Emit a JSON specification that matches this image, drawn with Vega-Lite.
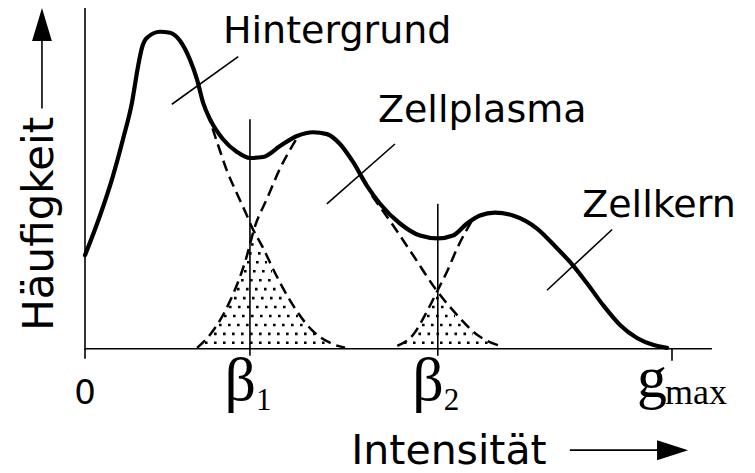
{
  "$schema": "https://vega.github.io/schema/vega-lite/v6.json",
  "width": 755,
  "height": 473,
  "autosize": {"type": "fit", "contains": "padding"},
  "padding": 0,
  "background": "white",
  "config": {
    "view": {"stroke": null},
    "text": {"font": "DejaVu Sans", "color": "black"}
  },
  "datasets": {
    "histogram": [
      {"intensity": 0, "frequency": 29.4},
      {"intensity": 2.56, "frequency": 41.9},
      {"intensity": 4.77, "frequency": 54.4},
      {"intensity": 6.47, "frequency": 65.9},
      {"intensity": 8.01, "frequency": 77.5},
      {"intensity": 9.03, "frequency": 88.75},
      {"intensity": 9.71, "frequency": 94.7},
      {"intensity": 10.56, "frequency": 97.8},
      {"intensity": 12.78, "frequency": 99.7},
      {"intensity": 14.48, "frequency": 99.4},
      {"intensity": 16.18, "frequency": 96.9},
      {"intensity": 17.89, "frequency": 90.9},
      {"intensity": 19.08, "frequency": 84.7},
      {"intensity": 20.1, "frequency": 77.5},
      {"intensity": 21.29, "frequency": 72.2},
      {"intensity": 23.51, "frequency": 65.9},
      {"intensity": 25.89, "frequency": 61.9},
      {"intensity": 28.11, "frequency": 60.0},
      {"intensity": 30.32, "frequency": 60.3},
      {"intensity": 33.22, "frequency": 63.75},
      {"intensity": 36.12, "frequency": 66.9},
      {"intensity": 38.84, "frequency": 68.1},
      {"intensity": 41.23, "frequency": 67.5},
      {"intensity": 43.44, "frequency": 64.4},
      {"intensity": 45.66, "frequency": 58.75},
      {"intensity": 48.04, "frequency": 51.25},
      {"intensity": 50.26, "frequency": 45.6},
      {"intensity": 53.66, "frequency": 39.4},
      {"intensity": 57.07, "frequency": 35.6},
      {"intensity": 60.14, "frequency": 34.7},
      {"intensity": 62.69, "frequency": 35.6},
      {"intensity": 65.08, "frequency": 39.4},
      {"intensity": 67.29, "frequency": 41.9},
      {"intensity": 69.85, "frequency": 42.8},
      {"intensity": 72.91, "frequency": 41.9},
      {"intensity": 77.0, "frequency": 37.8},
      {"intensity": 80.41, "frequency": 31.6},
      {"intensity": 83.13, "frequency": 26.25},
      {"intensity": 85.52, "frequency": 20.6},
      {"intensity": 88.25, "frequency": 13.75},
      {"intensity": 91.14, "frequency": 7.5},
      {"intensity": 94.04, "frequency": 3.4},
      {"intensity": 96.76, "frequency": 1.25},
      {"intensity": 99.15, "frequency": 0.3}
    ],
    "components": [
      {"tail": "Hintergrund rechts", "intensity": 20.8, "frequency": 74.4},
      {"tail": "Hintergrund rechts", "intensity": 22.5, "frequency": 65.0},
      {"tail": "Hintergrund rechts", "intensity": 24.2, "frequency": 55.9},
      {"tail": "Hintergrund rechts", "intensity": 25.9, "frequency": 48.75},
      {"tail": "Hintergrund rechts", "intensity": 27.3, "frequency": 43.1},
      {"tail": "Hintergrund rechts", "intensity": 28.4, "frequency": 38.4},
      {"tail": "Hintergrund rechts", "intensity": 30.2, "frequency": 32.2},
      {"tail": "Hintergrund rechts", "intensity": 32.4, "frequency": 23.75},
      {"tail": "Hintergrund rechts", "intensity": 35.0, "frequency": 15.0},
      {"tail": "Hintergrund rechts", "intensity": 38.8, "frequency": 5.6},
      {"tail": "Hintergrund rechts", "intensity": 41.7, "frequency": 1.9},
      {"tail": "Hintergrund rechts", "intensity": 44.3, "frequency": 0.3},
      {"tail": "Zellplasma links", "intensity": 19.1, "frequency": 0.3},
      {"tail": "Zellplasma links", "intensity": 21.3, "frequency": 4.4},
      {"tail": "Zellplasma links", "intensity": 24.7, "frequency": 15.0},
      {"tail": "Zellplasma links", "intensity": 27.3, "frequency": 27.5},
      {"tail": "Zellplasma links", "intensity": 29.0, "frequency": 38.75},
      {"tail": "Zellplasma links", "intensity": 31.0, "frequency": 47.2},
      {"tail": "Zellplasma links", "intensity": 33.2, "frequency": 56.6},
      {"tail": "Zellplasma links", "intensity": 35.9, "frequency": 65.6},
      {"tail": "Zellplasma rechts", "intensity": 48.9, "frequency": 48.1},
      {"tail": "Zellplasma rechts", "intensity": 52.5, "frequency": 38.75},
      {"tail": "Zellplasma rechts", "intensity": 55.9, "frequency": 29.4},
      {"tail": "Zellplasma rechts", "intensity": 60.0, "frequency": 18.1},
      {"tail": "Zellplasma rechts", "intensity": 63.4, "frequency": 10.6},
      {"tail": "Zellplasma rechts", "intensity": 66.8, "frequency": 4.4},
      {"tail": "Zellplasma rechts", "intensity": 70.7, "frequency": 0.9},
      {"tail": "Zellkern links", "intensity": 53.2, "frequency": 0.9},
      {"tail": "Zellkern links", "intensity": 55.9, "frequency": 4.4},
      {"tail": "Zellkern links", "intensity": 58.3, "frequency": 11.9},
      {"tail": "Zellkern links", "intensity": 60.0, "frequency": 18.1},
      {"tail": "Zellkern links", "intensity": 61.7, "frequency": 24.4},
      {"tail": "Zellkern links", "intensity": 63.4, "frequency": 31.6},
      {"tail": "Zellkern links", "intensity": 66.1, "frequency": 40.9}
    ],
    "overlap": [
      {"intensity": 20.44, "intensity2": 41.91, "frequency": 1.875},
      {"intensity": 21.98, "intensity2": 39.18, "frequency": 4.69},
      {"intensity": 22.83, "intensity2": 37.48, "frequency": 7.5},
      {"intensity": 23.68, "intensity2": 36.29, "frequency": 10.31},
      {"intensity": 24.53, "intensity2": 35.09, "frequency": 13.125},
      {"intensity": 25.38, "intensity2": 34.07, "frequency": 15.94},
      {"intensity": 25.89, "intensity2": 33.39, "frequency": 18.75},
      {"intensity": 26.58, "intensity2": 32.54, "frequency": 21.56},
      {"intensity": 27.09, "intensity2": 31.86, "frequency": 24.375},
      {"intensity": 27.6, "intensity2": 31.01, "frequency": 27.19},
      {"intensity": 27.94, "intensity2": 30.32, "frequency": 30.0},
      {"intensity": 28.28, "intensity2": 29.64, "frequency": 32.81},
      {"intensity": 54.34, "intensity2": 69.17, "frequency": 1.875},
      {"intensity": 56.81, "intensity2": 66.1, "frequency": 4.69},
      {"intensity": 57.41, "intensity2": 64.57, "frequency": 7.5},
      {"intensity": 58.26, "intensity2": 63.03, "frequency": 10.31},
      {"intensity": 59.11, "intensity2": 61.67, "frequency": 13.125},
      {"intensity": 59.8, "intensity2": 60.48, "frequency": 15.94}
    ],
    "strokes": [
      {"part": "Ordinate", "intensity": 0, "frequency": -0.3, "intensity2": 0, "frequency2": 107.2},
      {"part": "Abszisse", "intensity": 0, "frequency": 0, "intensity2": 106.8, "frequency2": 0},
      {"part": "Strich 0", "intensity": 0, "frequency": 0, "intensity2": 0, "frequency2": -3.1},
      {"part": "Strich gmax", "intensity": 100, "frequency": 0, "intensity2": 100, "frequency2": -3.75},
      {"part": "Schwelle 1", "intensity": 28.1, "frequency": 72.2, "intensity2": 28.1, "frequency2": -2.2},
      {"part": "Schwelle 2", "intensity": 60.1, "frequency": 45.6, "intensity2": 60.1, "frequency2": -2.2},
      {"part": "Hinweis Hintergrund", "intensity": 14.8, "frequency": 76.9, "intensity2": 26.1, "frequency2": 91.9},
      {"part": "Hinweis Zellplasma", "intensity": 41.2, "frequency": 45.6, "intensity2": 52.8, "frequency2": 64.4},
      {"part": "Hinweis Zellkern", "intensity": 78.7, "frequency": 18.4, "intensity2": 89.8, "frequency2": 37.5},
      {"part": "Pfeil Häufigkeit", "intensity": -7.33, "frequency": 75.6, "intensity2": -7.33, "frequency2": 97.5},
      {"part": "Pfeil Intensität", "intensity": 82.6, "frequency": -31.875, "intensity2": 98.0, "frequency2": -31.875}
    ],
    "labels": [
      {"label": "Hintergrund", "intensity": 23.5, "frequency": 96.25},
      {"label": "Zellplasma", "intensity": 49.9, "frequency": 71.25},
      {"label": "Zellkern", "intensity": 84.7, "frequency": 41.6}
    ],
    "ticklabels": [
      {"part": "symbol", "text": "0", "intensity": 0, "frequency": -17.5},
      {"part": "symbol", "text": "β", "intensity": 28.1, "frequency": -16.2},
      {"part": "index", "text": "1", "intensity": 28.1, "frequency": -19.4},
      {"part": "symbol", "text": "β", "intensity": 60.1, "frequency": -16.2},
      {"part": "index", "text": "2", "intensity": 60.1, "frequency": -19.4},
      {"part": "symbol", "text": "g", "intensity": 100, "frequency": -15.3},
      {"part": "index", "text": "max", "intensity": 100, "frequency": -17.5}
    ]
  },
  "encoding": {
    "x": {
      "field": "intensity",
      "type": "quantitative",
      "scale": {"domain": [-14.48, 114.14], "nice": false, "zero": false},
      "axis": null
    },
    "y": {
      "field": "frequency",
      "type": "quantitative",
      "scale": {"domain": [-38.125, 109.69], "nice": false, "zero": false},
      "axis": null
    }
  },
  "layer": [
    {
      "data": {"name": "overlap"},
      "mark": {"type": "rule", "color": "black", "strokeWidth": 2.6, "strokeDash": [2.6, 6.4]},
      "encoding": {"x2": {"field": "intensity2"}}
    },
    {
      "data": {"name": "strokes"},
      "mark": {"type": "rule", "color": "black", "strokeWidth": 1.6},
      "encoding": {"x2": {"field": "intensity2"}, "y2": {"field": "frequency2"}}
    },
    {
      "data": {"name": "components"},
      "mark": {"type": "line", "interpolate": "monotone", "color": "black", "strokeWidth": 2.5, "strokeDash": [11, 6]},
      "encoding": {"detail": {"field": "tail"}}
    },
    {
      "data": {"name": "histogram"},
      "mark": {"type": "line", "interpolate": "monotone", "color": "black", "strokeWidth": 4.2, "strokeCap": "round", "strokeJoin": "round"}
    },
    {
      "data": {"name": "labels"},
      "mark": {"type": "text", "fontSize": 38, "align": "left", "baseline": "alphabetic"},
      "encoding": {"text": {"field": "label"}}
    },
    {
      "data": {"values": [{"label": "Intensität", "intensity": 62.0, "frequency": -36.25}]},
      "mark": {"type": "text", "fontSize": 41, "align": "center", "baseline": "alphabetic"},
      "encoding": {"text": {"field": "label"}}
    },
    {
      "data": {"values": [{"label": "Häufigkeit", "intensity": -5.45, "frequency": 39.3}]},
      "mark": {"type": "text", "fontSize": 42, "angle": 270, "align": "center", "baseline": "alphabetic"},
      "encoding": {"text": {"field": "label"}}
    },
    {
      "data": {"name": "ticklabels"},
      "transform": [{"filter": "datum.text === '0'"}],
      "mark": {"type": "text", "fontSize": 34, "align": "center", "baseline": "alphabetic"},
      "encoding": {"text": {"field": "text"}}
    },
    {
      "data": {"name": "ticklabels"},
      "transform": [{"filter": "datum.text === 'β'"}],
      "mark": {"type": "text", "font": "Liberation Serif", "fontSize": 62, "align": "right", "baseline": "alphabetic", "dx": 6},
      "encoding": {"text": {"field": "text"}}
    },
    {
      "data": {"name": "ticklabels"},
      "transform": [{"filter": "datum.text === '1' || datum.text === '2'"}],
      "mark": {"type": "text", "font": "Liberation Serif", "fontSize": 31, "align": "left", "baseline": "alphabetic", "dx": 6},
      "encoding": {"text": {"field": "text"}}
    },
    {
      "data": {"name": "ticklabels"},
      "transform": [{"filter": "datum.text === 'g'"}],
      "mark": {"type": "text", "font": "Liberation Serif", "fontSize": 60, "align": "right", "baseline": "alphabetic", "dx": -5},
      "encoding": {"text": {"field": "text"}}
    },
    {
      "data": {"name": "ticklabels"},
      "transform": [{"filter": "datum.text === 'max'"}],
      "mark": {"type": "text", "font": "Liberation Serif", "fontSize": 36, "align": "left", "baseline": "alphabetic", "dx": -7},
      "encoding": {"text": {"field": "text"}}
    },
    {
      "data": {"values": [{"intensity": -7.33, "frequency": 102.0}]},
      "mark": {"type": "point", "shape": "M0,-1L0.6,1L-0.6,1Z", "size": 1089, "filled": true, "color": "black", "opacity": 1, "strokeWidth": 0}
    },
    {
      "data": {"values": [{"intensity": 100.1, "frequency": -31.875}]},
      "mark": {"type": "point", "shape": "M1,0L-1,-0.645L-1,0.645Z", "size": 961, "filled": true, "color": "black", "opacity": 1, "strokeWidth": 0}
    }
  ]
}
